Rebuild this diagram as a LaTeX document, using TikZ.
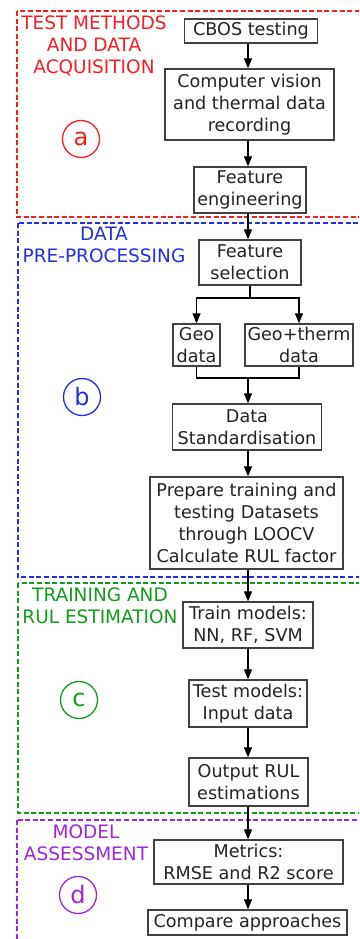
\documentclass[tikz,border=0pt]{standalone}
\usepackage{fontspec}
\setmainfont{DejaVu Sans}
\usetikzlibrary{arrows.meta}
\definecolor{cred}{RGB}{245,30,35}
\definecolor{cblue}{RGB}{35,45,225}
\definecolor{cgreen}{RGB}{20,155,30}
\definecolor{cpurple}{RGB}{155,40,215}
\definecolor{cbox}{RGB}{65,65,65}
\definecolor{ctext}{RGB}{35,35,35}
\begin{document}
\begin{tikzpicture}[x=1pt,y=-1pt,
  box/.style={draw=cbox,line width=1.3pt,inner sep=0pt,align=center,text=ctext,
    font=\fontsize{17.6}{22}\selectfont},
  frame/.style={line width=1.4pt,dash pattern=on 5pt off 2.6pt},
  ttl/.style={align=center,inner sep=0pt,font=\fontsize{18.5}{22}\selectfont},
  badge/.style={circle,draw,line width=1.3pt,minimum size=37pt,inner sep=0pt,
    font=\fontsize{24}{24}\selectfont},
  arr/.style={line width=1.2pt,-{Triangle[length=10pt,width=8pt]}},
  ln/.style={line width=1.2pt}]
\useasboundingbox (0,0) rectangle (359,939);
\clip (0,0) rectangle (359,939);
\fill[white] (0,0) rectangle (359,939);
% frames
\draw[frame,cred] (17,11) rectangle (370,217);
\draw[frame,cblue] (18,223) rectangle (370,577);
\draw[frame,cgreen] (18,583) rectangle (370,813);
\draw[frame,cpurple] (17,820) rectangle (370,960);
% titles
\node[ttl,text=cred] (t1) at (94,46) {TEST METHODS\\AND DATA\\ACQUISITION};
\node[ttl,text=cblue] (t2) at (104,245) {DATA\\PRE-PROCESSING};
\node[ttl,text=cgreen] (t3) at (100,606) {TRAINING AND\\RUL ESTIMATION};
\node[ttl,text=cpurple] (t4) at (86,843) {MODEL\\ASSESSMENT};
% badges
\node[badge,draw=cred,text=cred] (ba) at (81,139) {a};
\node[badge,draw=cblue,text=cblue] (bb) at (82,397) {b};
\node[badge,draw=cgreen,text=cgreen] (bc) at (79,700) {c};
\node[badge,draw=cpurple,text=cpurple] (bd) at (78,895) {d};
% boxes
\node[box,minimum width=133pt,minimum height=24pt] (n1) at (251,31) {CBOS testing};
\node[box,minimum width=169pt,minimum height=71pt] (n2) at (249.5,104.5) {Computer vision\\and thermal data\\recording};
\node[box,minimum width=112pt,minimum height=46pt] (n3) at (250,190) {Feature\\engineering};
\node[box,minimum width=102pt,minimum height=45pt] (n4) at (250,262.5) {Feature\\selection};
\node[box,minimum width=47pt,minimum height=42pt] (n5) at (196.5,345) {Geo\\data};
\node[box,minimum width=108pt,minimum height=42pt] (n6) at (299,345) {Geo+therm\\data};
\node[box,minimum width=149pt,minimum height=46pt] (n7) at (247,427) {Data\\Standardisation};
\node[box,minimum width=193pt,minimum height=92pt] (n8) at (246.5,523) {Prepare training and\\testing Datasets\\through LOOCV\\Calculate RUL factor};
\node[box,minimum width=130pt,minimum height=46pt] (n9) at (248,625) {Train models:\\NN, RF, SVM};
\node[box,minimum width=118pt,minimum height=47pt] (n10) at (248,703.5) {Test models:\\Input data};
\node[box,minimum width=119pt,minimum height=48pt] (n11) at (248.5,782) {Output RUL\\estimations};
\node[box,minimum width=189pt,minimum height=44pt] (n12) at (248.5,862) {Metrics:\\RMSE and R2 score};
\node[box,minimum width=199pt,minimum height=25pt] (n13) at (247.5,922.5) {Compare approaches};
% connectors
\coordinate (split) at (250,298);
\coordinate (merge) at (248,378);
\draw[arr] (n1.south -| 248,0) -- (n2.north -| 248,0);
\draw[arr] (n2.south -| 248,0) -- (n3.north -| 248,0);
\draw[arr] (n3.south -| 248,0) -- (n4.north -| 248,0);
\draw[ln] (n4.south) -- (split);
\draw[arr] (split) -| (n5.north);
\draw[arr] (split) -| (n6.north);
\draw[ln] (n5.south) |- (merge) -| (n6.south);
\draw[arr] (merge) -- (n7.north -| merge);
\draw[arr] (n7.south -| 248,0) -- (n8.north -| 248,0);
\draw[arr] (n8.south -| 248,0) -- (n9.north -| 248,0);
\draw[arr] (n9.south -| 248,0) -- (n10.north -| 248,0);
\draw[arr] (n10.south -| 248,0) -- (n11.north -| 248,0);
\draw[arr] (n11.south -| 248,0) -- (n12.north -| 248,0);
\draw[arr] (n12.south -| 248,0) -- (n13.north -| 248,0);
\end{tikzpicture}
\end{document}
